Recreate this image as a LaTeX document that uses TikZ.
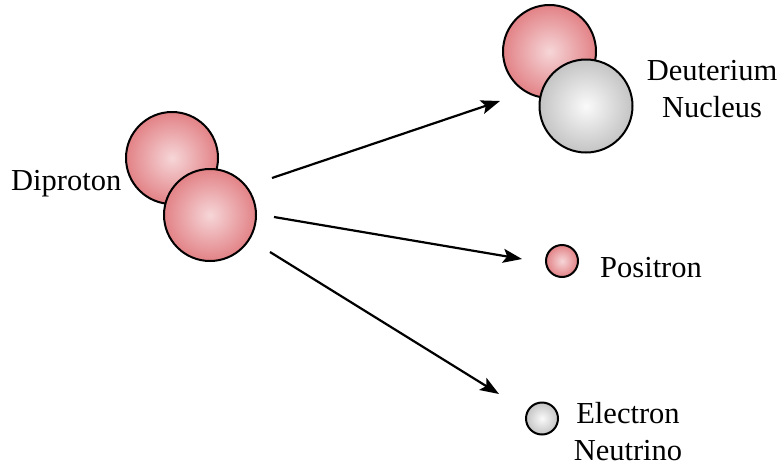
\documentclass[tikz,border=0pt]{standalone}
\usepackage{fontspec}
\setmainfont{Liberation Serif}
\usepackage{tikz}
\usetikzlibrary{arrows.meta}
\usetikzlibrary{positioning}
\definecolor{protonout}{RGB}{226,130,134}
\definecolor{protonin}{RGB}{246,214,216}
\definecolor{neutralout}{RGB}{196,196,196}
\definecolor{neutralin}{RGB}{250,250,250}
\tikzset{arr/.style = {line width=2.2pt, -{Stealth[length=19pt, width=14pt, inset=4pt]}}}
\tikzset{ball/.style = {circle, draw, line width=2pt, inner sep=0, shading=radial}}
\tikzset{redball/.style = {ball, inner color=protonin, outer color=protonout}}
\tikzset{greyball/.style = {ball, inner color=neutralin, outer color=neutralout}}
\tikzset{lbl/.style = {font=\fontsize{30.5}{37}\selectfont, inner sep=0, align=center}}

\begin{document}
\begin{tikzpicture}[x=1pt, y=-1pt]
    \useasboundingbox (0, 0) rectangle (784, 466);

    % diproton
    \node [redball, minimum size=92pt] (prota) at (172, 158) {};
    \node [redball, minimum size=92pt] (protb) at (210, 215) {};
    \node [lbl, anchor=base west] (diproton) at (11, 190) {Diproton};

    % deuterium
    \node [redball, minimum size=93pt] (deutp) at (549.5, 51.5) {};
    \node [greyball, minimum size=93pt] (deutn) at (586, 106) {};
    \node [lbl, anchor=base] (deutlbl) at (712, 117) {Deuterium\\Nucleus};

    % positron and neutrino
    \node [redball, minimum size=32pt] (posi) at (562, 261) {};
    \node [lbl, anchor=base west] (posilbl) at (600, 277) {Positron};
    \node [greyball, minimum size=32pt] (nu) at (542, 418.5) {};
    \node [lbl, anchor=base] (nulbl) at (628, 460) {Electron\\Neutrino};

    \coordinate (from1) at (272, 178);
    \coordinate (to1) at (500, 101);
    \coordinate (from2) at (274, 217);
    \coordinate (to2) at (522, 259);
    \coordinate (from3) at (270, 252);
    \coordinate (to3) at (499, 394);
    \draw [arr] (from1) -- (to1);
    \draw [arr] (from2) -- (to2);
    \draw [arr] (from3) -- (to3);
  \end{tikzpicture}
\end{document}
